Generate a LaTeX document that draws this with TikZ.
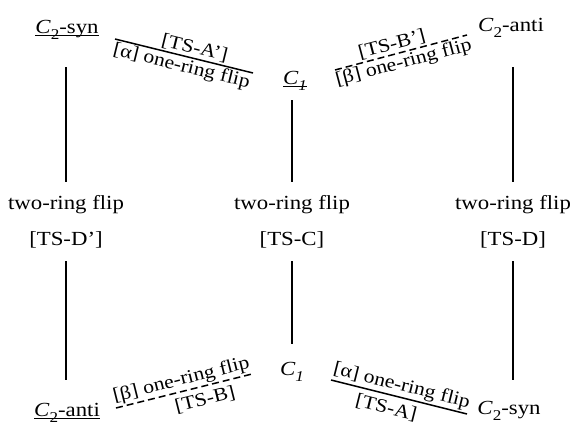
\documentclass[tikz,border=0pt]{standalone}
\usepackage{fontspec}
\setmainfont{Liberation Serif}[FakeStretch=1.14]
\newsavebox\ulbox
\newcommand\ulx[1]{\sbox\ulbox{#1}\rlap{\rule[-3pt]{\wd\ulbox}{1.2pt}}\usebox\ulbox}
\newcommand\sbx[1]{\raisebox{-6pt}{\fontsize{15}{15}\selectfont #1}}
\begin{document}
\begin{tikzpicture}[x=1pt,y=-1pt,
  lab/.style={font=\fontsize{20}{24}\selectfont, inner sep=0pt},
  vlab/.style={font=\fontsize{20}{36}\selectfont, align=center, inner sep=13pt},
  conn/.style={line width=1.5pt},
  dconn/.style={line width=1.5pt, dash pattern=on 7pt off 4pt},
  elab/.style={font=\fontsize{19}{22}\selectfont, sloped, inner sep=1.5pt},
  farlab/.style={elab, inner sep=5pt}]
\useasboundingbox (0,0) rectangle (573,426);
% states
\node[lab, anchor=base] (tl) at (67,33) {\ulx{\textit{C}\sbx{2}-syn}};
\node[lab, anchor=base] (tm) at (295,84) {\ulx{\textit{C}\sbx{\textit{1}}}};
\node[lab, anchor=base] (tr) at (511,31) {\textit{C}\sbx{2}-anti};
\node[lab, anchor=base] (bl) at (67,416) {\ulx{\textit{C}\sbx{2}-anti}};
\node[lab, anchor=base] (bm) at (292,375) {\textit{C}\sbx{\textit{1}}};
\node[lab, anchor=base] (br) at (509,414) {\textit{C}\sbx{2}-syn};
% two-ring flip labels
\node[vlab] (dl) at (66,221.5) {two-ring flip\\{}[TS-D’]};
\node[vlab] (dm) at (292,221.5) {two-ring flip\\{}[TS-C]};
\node[vlab] (dr) at (513,221.5) {two-ring flip\\{}[TS-D]};
% vertical connectors
\draw[conn, shorten <=28pt] (dl |- tl.south) -- (dl);
\draw[conn, shorten >=23pt] (dl) -- (dl |- bl.north);
\draw[conn, shorten <=10pt] (dm |- tm.south) -- (dm);
\draw[conn, shorten >=18pt] (dm) -- (dm |- bm.north);
\draw[conn, shorten <=30pt] (dr |- tr.south) -- (dr);
\draw[conn, shorten >=21pt] (dr) -- (dr |- br.north);
% diagonal connector ends
\coordinate (a1) at (115,39);  \coordinate (a2) at (253,73);
\coordinate (b1) at (335,70);  \coordinate (b2) at (467,35);
\coordinate (c1) at (116,408); \coordinate (c2) at (252,374);
\coordinate (d1) at (331,380); \coordinate (d2) at (467,414);
\draw[conn] (a1) -- node[elab, above, pos=0.56] {[TS-A’]} node[elab, below] {[α] one-ring flip} (a2);
\draw[dconn] (b1) -- node[elab, above, pos=0.45] {[TS-B’]} node[elab, below] {[β] one-ring flip} (b2);
\draw[dconn] (c1) -- node[elab, above] {[β] one-ring flip} node[farlab, below, pos=0.63] {[TS-B]} (c2);
\draw[conn] (d1) -- node[elab, above] {[α] one-ring flip} node[farlab, below, pos=0.43] {[TS-A]} (d2);
\end{tikzpicture}
\end{document}
